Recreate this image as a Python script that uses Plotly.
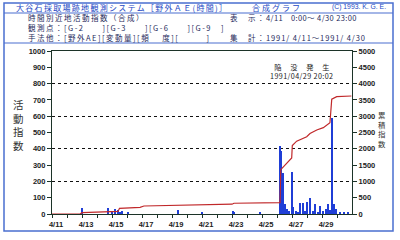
import plotly.graph_objects as go

# ---------------- data ----------------
# x in days since 1991/4/11 0:00
act_day = [1.98, 3.73, 4.00, 4.20, 4.40, 4.53, 4.70, 5.10, 8.40, 9.98, 12.07, 12.13, 13.90,
           15.20, 15.30, 15.40, 15.55, 15.67, 15.80, 16.00, 16.10, 16.27, 16.40, 16.53, 16.73,
           16.85, 17.00, 17.20, 17.40, 17.55, 17.75, 17.90, 18.10, 18.25, 18.40, 18.55,
           18.67, 18.77, 18.93, 19.20, 19.50, 19.75]
act_val = [35, 35, 20, 30, 25, 15, 20, 10, 25, 15, 20, 10, 8,
           420, 385, 250, 60, 30, 20, 260, 40, 20, 15, 70, 70,
           20, 75, 100, 20, 60, 15, 50, 20, 30, 60, 25,
           590, 60, 30, 15, 10, 8]

cum_day = [0, 1.87, 2.0, 3.73, 4.4, 4.5, 5.87, 6.13, 8.2, 10.2, 12.0, 12.13, 15.2,
           15.25, 15.98, 16.02, 16.31, 16.98, 17.2, 17.65, 18.09, 18.53, 18.65, 18.98, 19.96]
cum_val = [0, 0, 40, 70, 80, 175, 205, 245, 260, 285, 300, 330, 350,
           1360, 1720, 2100, 2235, 2370, 2470, 2575, 2650, 2800, 3520, 3600, 3620]

day_ticks = list(range(20))
day_labels = [f"4/{11 + d}" if d % 2 == 0 else "" for d in day_ticks]
left_ticks = list(range(0, 1001, 100))
right_ticks = list(range(0, 5001, 500))
grid_ticks = [200, 400, 600, 800]

# ---------------- figure ----------------
W, H = 400, 240
L, R, T, B = 52, 48, 51, 26
pw, ph = W - L - R, H - T - B


def px(x):
    return (x - L) / pw


def py(y):
    return (H - B - y) / ph


AX = "#1c3328"
BLUE = "#1f3ed6"
RED = "#c0282a"
FR = "#4a6fd0"
NAVY = "#1e2a5c"
TF = "Liberation Sans"
CJK = "Noto Sans CJK JP"

fig = go.Figure()
fig.add_trace(go.Scatter(x=[], y=[], yaxis="y3", showlegend=False))
fig.add_trace(go.Bar(x=act_day, y=act_val, width=0.07, marker=dict(color=BLUE, line=dict(width=0)),
                     showlegend=False))
fig.add_trace(go.Scatter(x=cum_day, y=cum_val, yaxis="y2", mode="lines",
                         line=dict(color=RED, width=1.2), showlegend=False))

tickfont = dict(family=TF, size=7.5, color="#222", weight="bold")

fig.update_layout(
    width=W, height=H, margin=dict(l=L, r=R, t=T, b=B),
    paper_bgcolor="white", plot_bgcolor="white",
    bargap=0,
    xaxis=dict(range=[0, 20], tickvals=day_ticks, ticktext=day_labels, ticks="outside",
               ticklen=3, tickcolor=AX, showline=True, linecolor=AX, linewidth=1.2, mirror=True,
               showgrid=False, zeroline=False, tickfont=tickfont, ticklabelshift=4),
    yaxis=dict(range=[0, 1000], tickvals=left_ticks, ticks="outside", ticklen=4, tickcolor=AX,
               showline=True, linecolor=AX, linewidth=1.2, showgrid=False, zeroline=False,
               tickfont=tickfont),
    yaxis2=dict(range=[0, 5000], tickvals=right_ticks, overlaying="y", side="right",
                ticks="outside", ticklen=4, tickcolor=AX, showline=True, linecolor=AX,
                linewidth=1.2, showgrid=False, zeroline=False, tickfont=tickfont),
    yaxis3=dict(range=[0, 1000], tickvals=grid_ticks, overlaying="y", showticklabels=False,
                ticks="", showline=False, showgrid=True, gridcolor="#111", gridwidth=1,
                griddash="dot", zeroline=False),
)

shapes = []
shapes.append(dict(type="rect", xref="paper", yref="paper", x0=px(4), x1=px(393), y0=py(231), y1=py(3),
                   line=dict(color=FR, width=1.5)))
for yy in (13, 43):
    shapes.append(dict(type="line", xref="paper", yref="paper", x0=px(4), x1=px(393), y0=py(yy), y1=py(yy),
                       line=dict(color=FR, width=1.2)))
fig.update_layout(shapes=shapes)

ann = []


def text(x, y, s, size=9, color=NAVY, family=CJK, anchor="left", weight="normal", yanchor="middle"):
    ann.append(dict(x=px(x), y=py(y), xref="paper", yref="paper", text=s, showarrow=False,
                    xanchor=anchor, yanchor=yanchor, align="left" if anchor == "left" else "center",
                    borderpad=0,
                    font=dict(family=family, size=size, color=color, weight=weight)))


def sp(s, ls=1.5):
    return f'<span style="letter-spacing:{ls}px">{s}</span>'


# header
text(15, 7.2, sp("大谷石採取場跡地観測システム［野外ＡＥ(時間)］", 1.3), size=8, color="#2448c4")
text(277, 7.2, sp("合成グラフ", 2), size=8, color="#2448c4", anchor="center")
text(359, 7.2, "(C) 1993. K. G. E.", size=6.8, color="#2448c4", family=TF, anchor="center")
left_rows = "<br>".join([
    sp("時間別近地活動指数（合成）"),
    sp("観測点：[G-2　　][G-3　　][G-6　　][G-9　]"),
    sp("手法他：[野外AE][変動量][頻　 度][　　　]"),
])
text(27, 27.5, left_rows, size=7.5)
right_rows = "<br>".join([
    sp("表　示：") + sp("4/11　0:00〜 4/30 23:00", 0.4),
    " ",
    sp("集　計：") + sp("1991/ 4/11〜1991/ 4/30", 0.9),
])
text(229, 27.5, right_rows, size=7.5)

# axis titles (vertical)
text(18, 125, "活<br>動<br>指<br>数", size=10.5, color="#333", anchor="center")
text(381.5, 129, "累<br>積<br>指<br>数", size=7.4, color="#333", anchor="center")

# event note
text(302, 71.5, "陥　 没　 発　 生<br>" + sp("1991/04/29 20:02", 0.4), size=7.2, color="#222",
     anchor="center")

fig.update_layout(annotations=ann)
fig.write_html("out.html")
